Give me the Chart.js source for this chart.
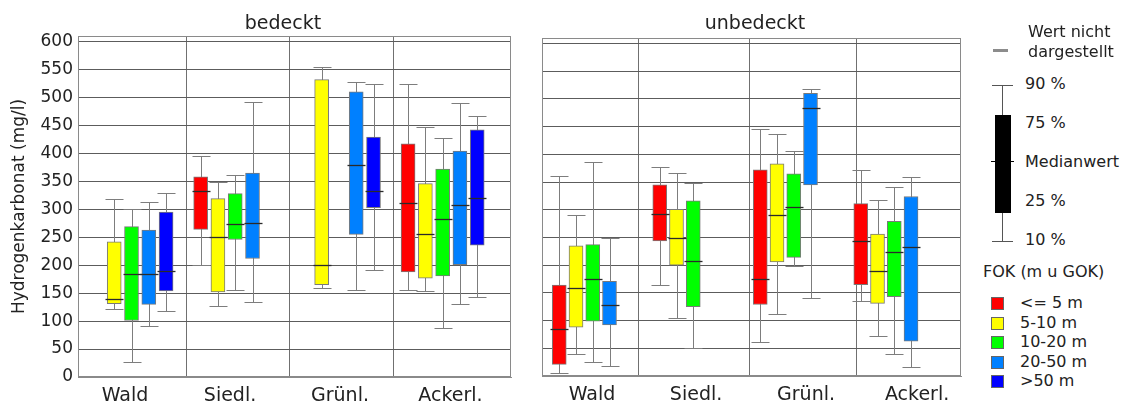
<!DOCTYPE html>
<html lang="de">
<head>
<meta charset="utf-8">
<title>Hydrogenkarbonat nach Landnutzung und Filteroberkante</title>
<script src="https://cdn.jsdelivr.net/npm/chart.js@4.4.1/dist/chart.umd.min.js"></script>
<style>
  html, body { margin: 0; padding: 0; background: #fff; }
  #page { position: relative; width: 1127px; height: 405px; overflow: hidden; background: #fff;
          font-family: "DejaVu Sans", Verdana, sans-serif; color: #222; }
  canvas { position: absolute; top: 0; }
  .title { position: absolute; top: 10px; width: 200px; text-align: center; font-size: 19px; line-height: 24px; }
  .lg { position: absolute; font-size: 16px; line-height: 20px; white-space: nowrap; }
  .shape { position: absolute; }
</style>
</head>
<body>
<div id="page">
  <canvas id="covered" width="520" height="405" style="left:0"></canvas>
  <canvas id="open" width="440" height="405" style="left:530px"></canvas>
  <div class="title" style="left:183px">bedeckt</div>
  <div class="title" style="left:655px">unbedeckt</div>

  <!-- key for the box symbol -->
  <div class="shape" style="left:993px;top:49px;width:15px;height:3px;background:#8c8c8c"></div>
  <div class="lg" style="left:1028px;top:22px">Wert nicht</div>
  <div class="lg" style="left:1028px;top:42px">dargestellt</div>

  <div class="shape" style="left:1002px;top:86px;width:1px;height:156px;background:#555"></div>
  <div class="shape" style="left:992px;top:85px;width:21px;height:1px;background:#555"></div>
  <div class="shape" style="left:992px;top:241px;width:21px;height:1px;background:#555"></div>
  <div class="shape" style="left:995px;top:115px;width:16px;height:98px;background:#000"></div>
  <div class="shape" style="left:991px;top:161px;width:23px;height:1px;background:#000"></div>
  <div class="lg" style="left:1025px;top:74px">90 %</div>
  <div class="lg" style="left:1025px;top:113px">75 %</div>
  <div class="lg" style="left:1025px;top:152px">Medianwert</div>
  <div class="lg" style="left:1025px;top:191px">25 %</div>
  <div class="lg" style="left:1025px;top:230px">10 %</div>

  <div class="lg" style="left:983px;top:262px">FOK (m u GOK)</div>
  <div id="classKey"></div>
</div>

<script>
// Land-use categories along the x axis of both panels
const categories = ['Wald', 'Siedl.', 'Grünl.', 'Ackerl.'];
// Depth of the filter top below ground (FOK, m u GOK)
const depthClasses = ['<= 5 m', '5-10 m', '10-20 m', '20-50 m', '>50 m'];
const classColors = ['#ff0000', '#ffff00', '#00ff00', '#0080ff', '#0000ff'];
const yTickValues = [0, 50, 100, 150, 200, 250, 300, 350, 400, 450, 500, 550, 600];

// Percentiles in mg/l; rows = depth class, columns = category (null = no data)
// Covered aquifers ("bedeckt")
const coveredP10 = [
  [null, 201, null, 155],
  [121, 127, 159, 153],
  [27, 155, null, 88],
  [92, 135, 155, 131],
  [118, null, 191, 143]
];
const coveredP25 = [
  [null, 264, null, 188],
  [131, 152, 165, 177],
  [101, 246, null, 181],
  [130, 212, 255, 201],
  [154, null, 303, 236]
];
const coveredMedian = [
  [null, 333, null, 312],
  [140, 250, 201, 255],
  [184, 273, null, 282],
  [185, 276, 379, 307],
  [189, null, 333, 321]
];
const coveredP75 = [
  [null, 358, null, 417],
  [242, 319, 532, 346],
  [269, 328, null, 372],
  [263, 365, 510, 404],
  [295, null, 429, 442]
];
const coveredP90 = [
  [null, 395, null, 524],
  [319, 349, 555, 448],
  [300, 361, null, 428],
  [313, 492, 528, 491],
  [330, null, 525, 466]
];

// Uncovered aquifers ("unbedeckt")
const openP10 = [
  [6, 164, 61, 135],
  [40, 104, 111, 73],
  [25, 51, 199, 39],
  [18, null, 141, 17],
  [null, null, null, null]
];
const openP25 = [
  [21, 244, 129, 165],
  [88, 200, 206, 131],
  [99, 125, 214, 143],
  [92, null, 345, 63],
  [null, null, null, null]
];
const openMedian = [
  [85, 293, 175, 243],
  [159, 249, 290, 190],
  [175, 208, 305, 224],
  [128, null, 483, 232],
  [null, null, null, null]
];
const openP75 = [
  [164, 345, 372, 311],
  [235, 301, 383, 256],
  [237, 316, 365, 279],
  [171, null, 510, 324],
  [null, null, null, null]
];
const openP90 = [
  [361, 377, 446, 371],
  [291, 366, 436, 317],
  [386, 348, 406, 341],
  [249, null, 518, 360],
  [null, null, null, null]
];

const FONT = '"DejaVu Sans", Verdana, sans-serif';
const TEXT = '#222';

// One floating-bar dataset per depth class; whiskers and medians ride along on each point
function boxDatasets(p10, p25, med, p75, p90) {
  return depthClasses.map((label, k) => ({
    label,
    backgroundColor: classColors[k],
    borderColor: '#7a7a7a',
    borderWidth: 1,
    borderSkipped: false,
    barThickness: 14,
    grouped: false,
    data: categories.flatMap((c, i) => p25[k][i] == null ? [] : [{
      x: i + 0.5 + (k - 2) / 6,
      y: [p25[k][i], p75[k][i]],
      p10: p10[k][i], med: med[k][i], p90: p90[k][i]
    }])
  }));
}

// Whiskers (10 % / 90 %) behind the boxes, median marks on top, frame round the plot
const boxPlotPlugin = {
  id: 'boxPlot',
  beforeDatasetsDraw(chart) {
    const { ctx, chartArea: a, scales: { x, y } } = chart;
    ctx.save();
    ctx.strokeStyle = '#8a8a8a';
    ctx.lineWidth = 1;
    ctx.strokeRect(a.left + 0.5, a.top + 0.5, a.right - a.left - 1, a.bottom - a.top - 1);
    ctx.strokeStyle = '#7d7d7d';
    chart.data.datasets.forEach(ds => ds.data.forEach(d => {
      const px = Math.round(x.getPixelForValue(d.x)) + 0.5;
      const top = Math.round(y.getPixelForValue(d.p90)) + 0.5;
      const bot = Math.round(y.getPixelForValue(d.p10)) + 0.5;
      ctx.beginPath();
      ctx.moveTo(px, top); ctx.lineTo(px, bot);
      ctx.moveTo(px - 9, top); ctx.lineTo(px + 9, top);
      ctx.moveTo(px - 9, bot); ctx.lineTo(px + 9, bot);
      ctx.stroke();
    }));
    ctx.restore();
  },
  afterDatasetsDraw(chart) {
    const { ctx, scales: { x, y } } = chart;
    ctx.save();
    ctx.strokeStyle = '#2a2a2a';
    ctx.lineWidth = 1.3;
    chart.data.datasets.forEach(ds => ds.data.forEach(d => {
      const px = Math.round(x.getPixelForValue(d.x)) + 0.5;
      const my = Math.round(y.getPixelForValue(d.med)) + 0.5;
      ctx.beginPath();
      ctx.moveTo(px - 9, my); ctx.lineTo(px + 9, my);
      ctx.stroke();
    }));
    ctx.restore();
  }
};

function makePanel(canvasId, datasets, opts) {
  const xCommon = { type: 'linear', min: opts.xMin, max: opts.xMax, offset: false };
  return new Chart(document.getElementById(canvasId), {
    type: 'bar',
    data: { datasets },
    plugins: [boxPlotPlugin],
    options: {
      responsive: false,
      animation: false,
      events: [],
      layout: { padding: opts.padding },
      plugins: { legend: { display: false }, tooltip: { enabled: false }, title: { display: false } },
      scales: {
        x: {
          ...xCommon,
          afterBuildTicks: s => { s.ticks = opts.separators.map(v => ({ value: v })); },
          ticks: { display: false },
          grid: { color: '#707070', drawTicks: false, offset: false },
          border: { color: '#8a8a8a' },
          afterFit: s => { s.height = 0; }
        },
        xl: {
          ...xCommon,
          position: 'bottom',
          afterBuildTicks: s => { s.ticks = opts.labelPos.map(v => ({ value: v })); },
          ticks: {
            callback: (v, i) => categories[i],
            autoSkip: false, maxRotation: 0, padding: 8,
            font: { family: FONT, size: 19 }, color: TEXT
          },
          grid: { display: false, drawTicks: false, offset: false },
          border: { display: false },
          afterFit: s => { s.height = opts.labelHeight; }
        },
        y: {
          min: 0, max: 610,
          afterBuildTicks: s => { s.ticks = yTickValues.map(v => ({ value: v })); },
          ticks: { display: opts.showY, padding: 5, font: { family: FONT, size: 17 }, color: TEXT },
          grid: { color: '#5c5c5c', drawTicks: false },
          border: { color: '#8a8a8a' },
          title: {
            display: opts.showY, text: 'Hydrogenkarbonat (mg/l)',
            font: { family: FONT, size: 17 }, color: TEXT, padding: { top: 9, bottom: 0 }
          },
          afterFit: s => { s.width = opts.yWidth; }
        }
      }
    }
  });
}

makePanel('covered',
  boxDatasets(coveredP10, coveredP25, coveredMedian, coveredP75, coveredP90),
  {
    xMin: -0.016, xMax: 4.159,
    separators: [1.026, 2.019, 3.022],
    labelPos: [0.437, 1.45, 2.51, 3.575],
    padding: { left: 0, right: 9, top: 36, bottom: 0 },
    labelHeight: 28, yWidth: 78, showY: true
  });

makePanel('open',
  boxDatasets(openP10, openP25, openMedian, openP75, openP90),
  {
    xMin: -0.005, xMax: 4.164,
    separators: [0.951, 2.055, 3.12],
    labelPos: [0.493, 1.528, 2.622, 3.727],
    padding: { left: 12, right: 9, top: 38, bottom: 0 },
    labelHeight: 29, yWidth: 0, showY: false
  });

// Colour key for the depth classes
const key = document.getElementById('classKey');
depthClasses.forEach((label, k) => {
  const top = 294 + k * 19.5;
  const sw = document.createElement('div');
  sw.className = 'shape';
  sw.style.cssText = `left:991px;top:${top + 3}px;width:11px;height:11px;background:${classColors[k]};border:1px solid #666`;
  const tx = document.createElement('div');
  tx.className = 'lg';
  tx.style.cssText = `left:1020px;top:${top - 1}px`;
  tx.textContent = label;
  key.appendChild(sw);
  key.appendChild(tx);
});
</script>
</body>
</html>
